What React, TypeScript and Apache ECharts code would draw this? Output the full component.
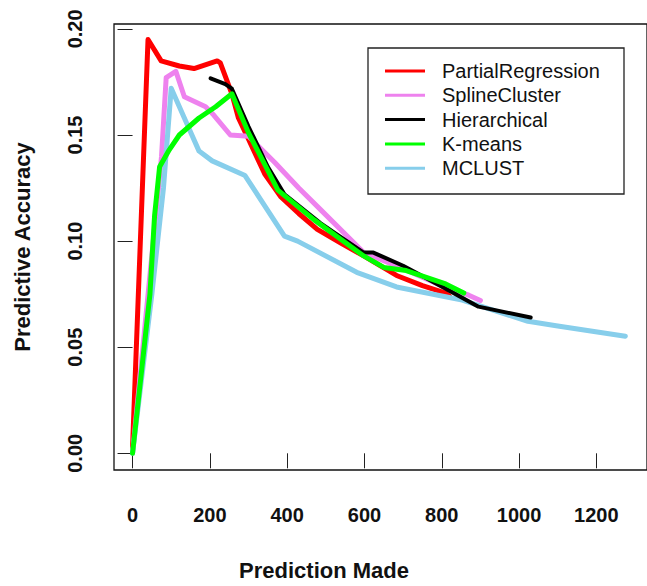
import React, { useEffect, useRef } from "react";
import * as echarts from "echarts";

const seriesNames = ["PartialRegression", "SplineCluster", "Hierarchical", "K-means", "MCLUST"];
const seriesColors = ["#ff0000", "#ee82ee", "#000000", "#00ff00", "#87ceeb"];

const partialRegressionX = [0, 40, 74, 121, 159, 219, 227, 257, 274, 300, 342, 384, 430, 478, 540, 598, 683, 750, 810, 820];
const partialRegressionY = [0.003, 0.195, 0.1849, 0.1825, 0.1813, 0.1849, 0.184, 0.1694, 0.158, 0.148, 0.1316, 0.1208, 0.113, 0.1055, 0.099, 0.093, 0.0838, 0.079, 0.0755, 0.074];

const splineClusterX = [0, 75, 87, 112, 134, 189, 210, 253, 300, 368, 430, 487, 598, 700, 800, 870, 900];
const splineClusterY = [0, 0.14, 0.177, 0.18, 0.168, 0.1633, 0.1594, 0.15, 0.1494, 0.137, 0.125, 0.1147, 0.0946, 0.087, 0.079, 0.0745, 0.072];

const hierarchicalX = [202, 240, 257, 300, 350, 393, 486, 598, 623, 700, 810, 895, 1030];
const hierarchicalY = [0.1767, 0.174, 0.1718, 0.154, 0.135, 0.122, 0.1085, 0.0946, 0.0946, 0.0884, 0.0776, 0.0691, 0.064];

const kmeansX = [0, 45, 57, 70, 95, 121, 172, 215, 257, 300, 376, 470, 598, 650, 708, 810, 857];
const kmeansY = [0, 0.075, 0.112, 0.135, 0.143, 0.15, 0.158, 0.1633, 0.1694, 0.151, 0.124, 0.11, 0.093, 0.0876, 0.0861, 0.0798, 0.0755];

const mclustX = [0, 50, 80, 100, 134, 172, 206, 291, 393, 427, 580, 683, 810, 853, 1023, 1100, 1275];
const mclustY = [0, 0.075, 0.125, 0.172, 0.158, 0.1424, 0.1378, 0.1309, 0.1023, 0.1, 0.0853, 0.0784, 0.0738, 0.0722, 0.0622, 0.06, 0.0552];

const xTicks = [0, 200, 400, 600, 800, 1000, 1200];
const yTicks = [0, 0.05, 0.1, 0.15, 0.2];

const zip = (xs: number[], ys: number[]) => xs.map((x, i) => [x, ys[i]]);

const seriesData = [
  zip(partialRegressionX, partialRegressionY),
  zip(splineClusterX, splineClusterY),
  zip(hierarchicalX, hierarchicalY),
  zip(kmeansX, kmeansY),
  zip(mclustX, mclustY),
];

// drawing order (later on top)
const drawOrder = [0, 1, 4, 2, 3];

export default function App() {
  const ref = useRef<HTMLDivElement>(null);
  useEffect(() => {
    if (!ref.current) return;
    const chart = echarts.init(ref.current, null, { renderer: "svg" });
    const font = "'Liberation Sans', Arial, Helvetica, sans-serif";
    chart.setOption({
      animation: false,
      backgroundColor: "#ffffff",
      grid: {
        left: 114,
        top: 24,
        width: 540,
        height: 454,
        show: true,
        borderColor: "#111",
        borderWidth: 1.3,
        backgroundColor: "transparent",
      },
      xAxis: {
        type: "value",
        min: -48,
        max: 1331,
        splitLine: { show: false },
        axisLine: { show: false },
        axisTick: { show: true, customValues: xTicks, length: 15, lineStyle: { color: "#222", width: 1 } },
        axisLabel: {
          customValues: xTicks,
          margin: 35,
          fontSize: 20,
          fontWeight: "bold",
          fontFamily: font,
          color: "#111",
          formatter: (v: number) => String(v),
        },
        name: "Prediction Made",
        nameLocation: "middle",
        nameGap: 89,
        nameTextStyle: { fontSize: 22, fontWeight: "bold", fontFamily: font, color: "#111", padding: [0, 113, 0, 0] },
      },
      yAxis: {
        type: "value",
        min: -0.00787,
        max: 0.2023,
        splitLine: { show: false },
        axisLine: { show: false },
        axisTick: { show: true, customValues: yTicks, length: 15, lineStyle: { color: "#222", width: 1 } },
        axisLabel: {
          customValues: yTicks,
          rotate: 90,
          margin: 29,
          fontSize: 20,
          fontWeight: "bold",
          fontFamily: font,
          color: "#111",
          formatter: (v: number) => v.toFixed(2),
        },
        name: "Predictive Accuracy",
        nameLocation: "middle",
        nameGap: 81,
        nameTextStyle: { fontSize: 22, fontWeight: "bold", fontFamily: font, color: "#111" },
      },
      legend: {
        show: true,
        orient: "vertical",
        left: 385,
        top: 61,
        padding: 0,
        icon: "rect",
        itemWidth: 40,
        itemHeight: 3,
        itemGap: 4.3,
        data: seriesNames,
        textStyle: { fontSize: 20, fontFamily: font, color: "#111", lineHeight: 20, padding: [0, 0, 0, 12] },
      },
      graphic: [
        {
          type: "rect",
          shape: { x: 368, y: 48, width: 256, height: 146 },
          style: { fill: "transparent", stroke: "#222", lineWidth: 1.3 },
          z: 100,
        },
      ],
      series: drawOrder.map((i) => ({
        name: seriesNames[i],
        type: "line",
        data: seriesData[i],
        symbol: "none",
        color: seriesColors[i],
        itemStyle: { color: seriesColors[i] },
        lineStyle: { width: i === 2 ? 4 : 5, color: seriesColors[i], cap: "round", join: "round" },
        z: 2,
      })),
    });
    return () => chart.dispose();
  }, []);
  return <div ref={ref} style={{ position: "fixed", left: 0, top: 0, width: 647, height: 586 }} />;
}
